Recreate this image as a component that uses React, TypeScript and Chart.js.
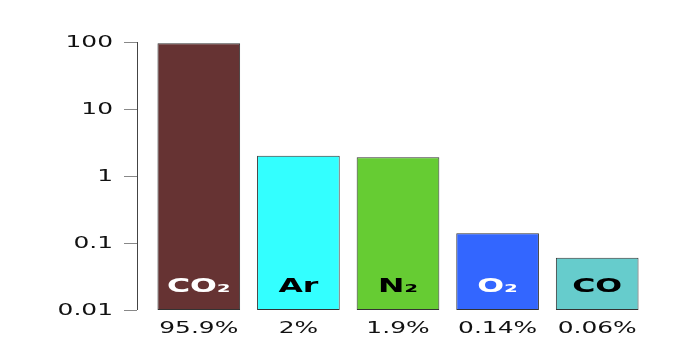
import React, { useEffect, useRef } from "react";
import { Chart, registerables } from "chart.js";

Chart.register(...registerables);

const categories = ["CO₂", "Ar", "N₂", "O₂", "CO"];
const percentLabels = ["95.9%", "2%", "1.9%", "0.14%", "0.06%"];
const values = [95.9, 2, 1.9, 0.14, 0.06];
const barColors = ["#663333", "#33ffff", "#66cc33", "#3366ff", "#66cccc"];
const nameColors = ["#ffffff", "#000000", "#000000", "#ffffff", "#000000"];
const yTickValues = [100, 10, 1, 0.1, 0.01];
const yTickLabels = ["100", "10", "1", "0.1", "0.01"];

const STRETCH = 1.66;
const FONT = "DejaVu Sans";

function stretchedText(ctx: CanvasRenderingContext2D, text: string, x: number, y: number, align: CanvasTextAlign) {
  ctx.save();
  ctx.translate(x, y);
  ctx.scale(STRETCH, 1);
  ctx.textAlign = align;
  ctx.fillText(text, 0, 0);
  ctx.restore();
}

const overlay = {
  id: "overlay",
  afterDraw(chart: any) {
    const ctx: CanvasRenderingContext2D = chart.ctx;
    const y = chart.scales.y;
    const x = chart.scales.x;
    const area = chart.chartArea;
    const axisX = area.left - 12;
    ctx.save();
    // axis line
    ctx.strokeStyle = "#444444";
    ctx.lineWidth = 1;
    ctx.beginPath();
    ctx.moveTo(axisX + 0.5, y.getPixelForValue(yTickValues[0]));
    ctx.lineTo(axisX + 0.5, y.getPixelForValue(yTickValues[yTickValues.length - 1]));
    ctx.stroke();
    // ticks and labels
    ctx.fillStyle = "#111111";
    ctx.font = `15px "${FONT}"`;
    ctx.textBaseline = "middle";
    yTickValues.forEach((v, i) => {
      const py = Math.round(y.getPixelForValue(v)) + 0.5;
      ctx.strokeStyle = "#888888";
      ctx.beginPath();
      ctx.moveTo(axisX - 13, py);
      ctx.lineTo(axisX, py);
      ctx.stroke();
      stretchedText(ctx, yTickLabels[i], axisX - 24, py + 1, "right");
    });
    // x labels
    ctx.textBaseline = "alphabetic";
    percentLabels.forEach((lab, i) => {
      const px = x.getPixelForValue(i);
      stretchedText(ctx, lab, px, area.bottom + 23, "center");
    });
    // names inside bars
    ctx.font = `bold 19px "${FONT}"`;
    categories.forEach((name, i) => {
      const px = x.getPixelForValue(i);
      ctx.fillStyle = nameColors[i];
      stretchedText(ctx, name, px, area.bottom - 18, "center");
    });
    ctx.restore();
  },
};

export default function App() {
  const ref = useRef<HTMLCanvasElement>(null);
  useEffect(() => {
    if (!ref.current) return;
    const chart = new Chart(ref.current, {
      type: "bar",
      data: {
        labels: categories,
        datasets: [
          {
            data: values,
            backgroundColor: barColors,
            borderColor: "#333333",
            borderWidth: 1,
            borderSkipped: false,
            categoryPercentage: 1,
            barPercentage: 0.83,
          },
        ],
      },
      options: {
        responsive: false,
        animation: false,
        layout: { padding: { left: 149, right: 51, top: 42, bottom: 41 } },
        plugins: { legend: { display: false }, tooltip: { enabled: false } },
        scales: {
          x: { display: false },
          y: { type: "logarithmic", display: false, min: 0.01, max: 100 },
        },
      },
      plugins: [overlay],
    });
    return () => chart.destroy();
  }, []);
  return (
    <div style={{ position: "fixed", left: 0, top: 0, width: 698, height: 351, background: "#fff" }}>
      <canvas ref={ref} width={698} height={351} style={{ display: "block" }} />
    </div>
  );
}
